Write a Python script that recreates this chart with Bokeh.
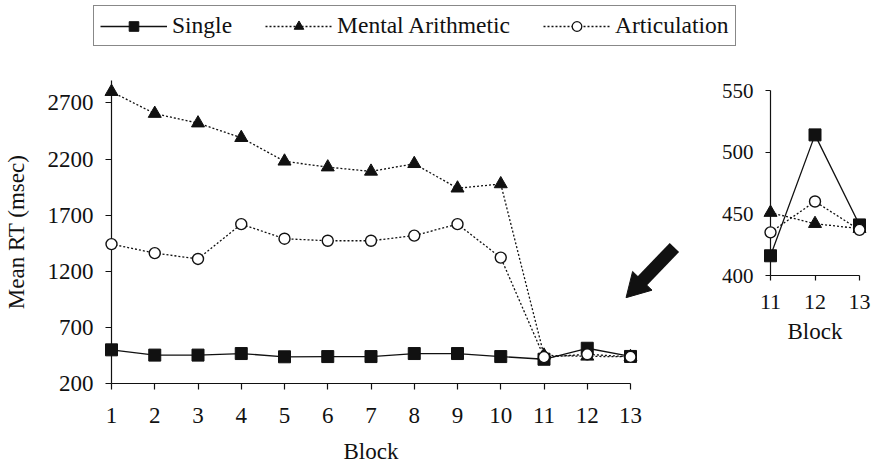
from bokeh.plotting import figure
from bokeh.models import Range1d, LinearAxis, FixedTicker, Legend, LegendItem
from bokeh.layouts import column, row
from bokeh.embed import file_html
from bokeh.resources import INLINE

# ---------------- data ----------------
blocks = [1, 2, 3, 4, 5, 6, 7, 8, 9, 10, 11, 12, 13]
single = [500, 453, 453, 467, 438, 440, 440, 467, 467, 440, 416, 514, 441]
mental = [2800, 2605, 2520, 2390, 2180, 2128, 2090, 2158, 1940, 1978, 451, 442, 438]
artic = [1442, 1362, 1310, 1620, 1490, 1472, 1472, 1518, 1620, 1322, 435, 460, 437]

series_names = ["Single", "Mental Arithmetic", "Articulation"]

main_xticks = [1, 2, 3, 4, 5, 6, 7, 8, 9, 10, 11, 12, 13]
main_yticks = [200, 700, 1200, 1700, 2200, 2700]
inset_start = 10  # index of block 11
inset_xticks = [11, 12, 13]
inset_yticks = [400, 450, 500, 550]

# decorative arrow pointing at blocks 11-13 (main-chart data coordinates)
ARROW_TAIL = (14.015, 1412)
ARROW_HEAD = (13.148, 1065)
ARROW_ANGLE_DEG = 136

FONT = "Liberation Serif"
BLACK = "#111111"


def style_axis(ax, tick_size, label_size, tick_out):
    ax.axis_line_color = BLACK
    ax.axis_line_width = 1.2
    ax.major_tick_line_color = BLACK
    ax.major_tick_line_width = 1.2
    ax.major_tick_in = 0
    ax.major_tick_out = tick_out
    ax.minor_tick_line_color = None
    ax.major_label_text_font = FONT
    ax.major_label_text_font_size = tick_size
    ax.major_label_text_color = BLACK
    ax.axis_label_text_font = FONT
    ax.axis_label_text_font_size = label_size
    ax.axis_label_text_font_style = "normal"
    ax.axis_label_text_color = BLACK


def draw_series(fig, xs, s, m, a):
    fig.line(xs, s, line_color=BLACK, line_width=1.3)
    fig.line(xs, m, line_color=BLACK, line_width=1.3, line_dash="2 2")
    fig.line(xs, a, line_color=BLACK, line_width=1.3, line_dash="2 2")
    # markers at overlay level so that points on the frame edges are not clipped
    fig.scatter(xs, s, marker="square", size=12, fill_color=BLACK, line_color=BLACK,
                level="overlay")
    fig.scatter(xs, m, marker="triangle", size=13, fill_color=BLACK, line_color=BLACK,
                level="overlay")
    fig.scatter(xs, a, marker="circle", size=11, fill_color="white",
                line_color=BLACK, line_width=1.4, level="overlay")


# ---------------- legend strip ----------------
lf = figure(width=873, height=53, x_range=Range1d(100, 101), y_range=Range1d(100, 101),
            x_axis_type=None, y_axis_type=None, output_backend="svg",
            toolbar_location=None, min_border=0, outline_line_color=None)
l1 = lf.line(blocks, single, line_color=BLACK, line_width=1.3)
m1 = lf.scatter(blocks, single, marker="square", fill_color=BLACK, line_color=BLACK)
l2 = lf.line(blocks, mental, line_color=BLACK, line_width=1.3, line_dash="2 2")
m2 = lf.scatter(blocks, mental, marker="triangle", fill_color=BLACK, line_color=BLACK)
l3 = lf.line(blocks, artic, line_color=BLACK, line_width=1.3, line_dash="2 2")
m3 = lf.scatter(blocks, artic, marker="circle", fill_color="white", line_color=BLACK,
                line_width=1.3)
legend = Legend(items=[LegendItem(label=series_names[0], renderers=[l1, m1]),
                       LegendItem(label=series_names[1], renderers=[l2, m2]),
                       LegendItem(label=series_names[2], renderers=[l3, m3])],
                location=(93, 7), orientation="horizontal",
                glyph_width=67, glyph_height=24, label_standoff=5, spacing=33,
                padding=6, margin=0, border_line_color=BLACK, border_line_width=1.5,
                label_text_font=FONT, label_text_font_size="23.5px",
                label_text_color=BLACK)
lf.add_layout(legend)

# ---------------- main chart ----------------
p = figure(width=700, height=414, x_range=Range1d(1, 13),
           y_range=Range1d(200, 2900), x_axis_type=None, y_axis_type=None,
           output_backend="svg", toolbar_location=None,
           min_border_left=110, min_border_right=70, min_border_top=27,
           min_border_bottom=84, outline_line_color=None)
xa = LinearAxis(ticker=FixedTicker(ticks=main_xticks), axis_label="Block",
                major_label_standoff=18, axis_label_standoff=13)
style_axis(xa, "23px", "23px", 6)
p.add_layout(xa, "below")
ya = LinearAxis(ticker=FixedTicker(ticks=main_yticks), axis_label="Mean RT (msec)",
                major_label_standoff=12, axis_label_standoff=16)
style_axis(ya, "23px", "23px", 6)
p.add_layout(ya, "left")
draw_series(p, blocks, single, mental, artic)

# thick arrow: shaft + triangular head (overlay level, drawn outside the frame)
p.segment(x0=[ARROW_TAIL[0]], y0=[ARROW_TAIL[1]], x1=[ARROW_HEAD[0]], y1=[ARROW_HEAD[1]],
          line_color=BLACK, line_width=13, line_cap="butt", level="overlay")
p.scatter(x=[ARROW_HEAD[0]], y=[ARROW_HEAD[1]], marker="triangle", size=27,
          angle=ARROW_ANGLE_DEG, angle_units="deg", fill_color=BLACK,
          line_color=BLACK, level="overlay")

# ---------------- inset ----------------
q = figure(width=173, height=414, x_range=Range1d(11, 13),
           y_range=Range1d(400, 550), x_axis_type=None, y_axis_type=None,
           output_backend="svg", toolbar_location=None,
           min_border_left=70, min_border_right=14, min_border_top=37,
           min_border_bottom=192, outline_line_color=None)
qx = LinearAxis(ticker=FixedTicker(ticks=inset_xticks), axis_label="Block",
                major_label_standoff=14, axis_label_standoff=7)
style_axis(qx, "22px", "23px", 5)
q.add_layout(qx, "below")
qy = LinearAxis(ticker=FixedTicker(ticks=inset_yticks), major_label_standoff=12)
style_axis(qy, "21px", "23px", 5)
q.add_layout(qy, "left")
draw_series(q, blocks[inset_start:], single[inset_start:], mental[inset_start:],
            artic[inset_start:])

layout = column(column(lf), row(column(p), column(q)))
open("out.html", "w").write(file_html(layout, INLINE))
